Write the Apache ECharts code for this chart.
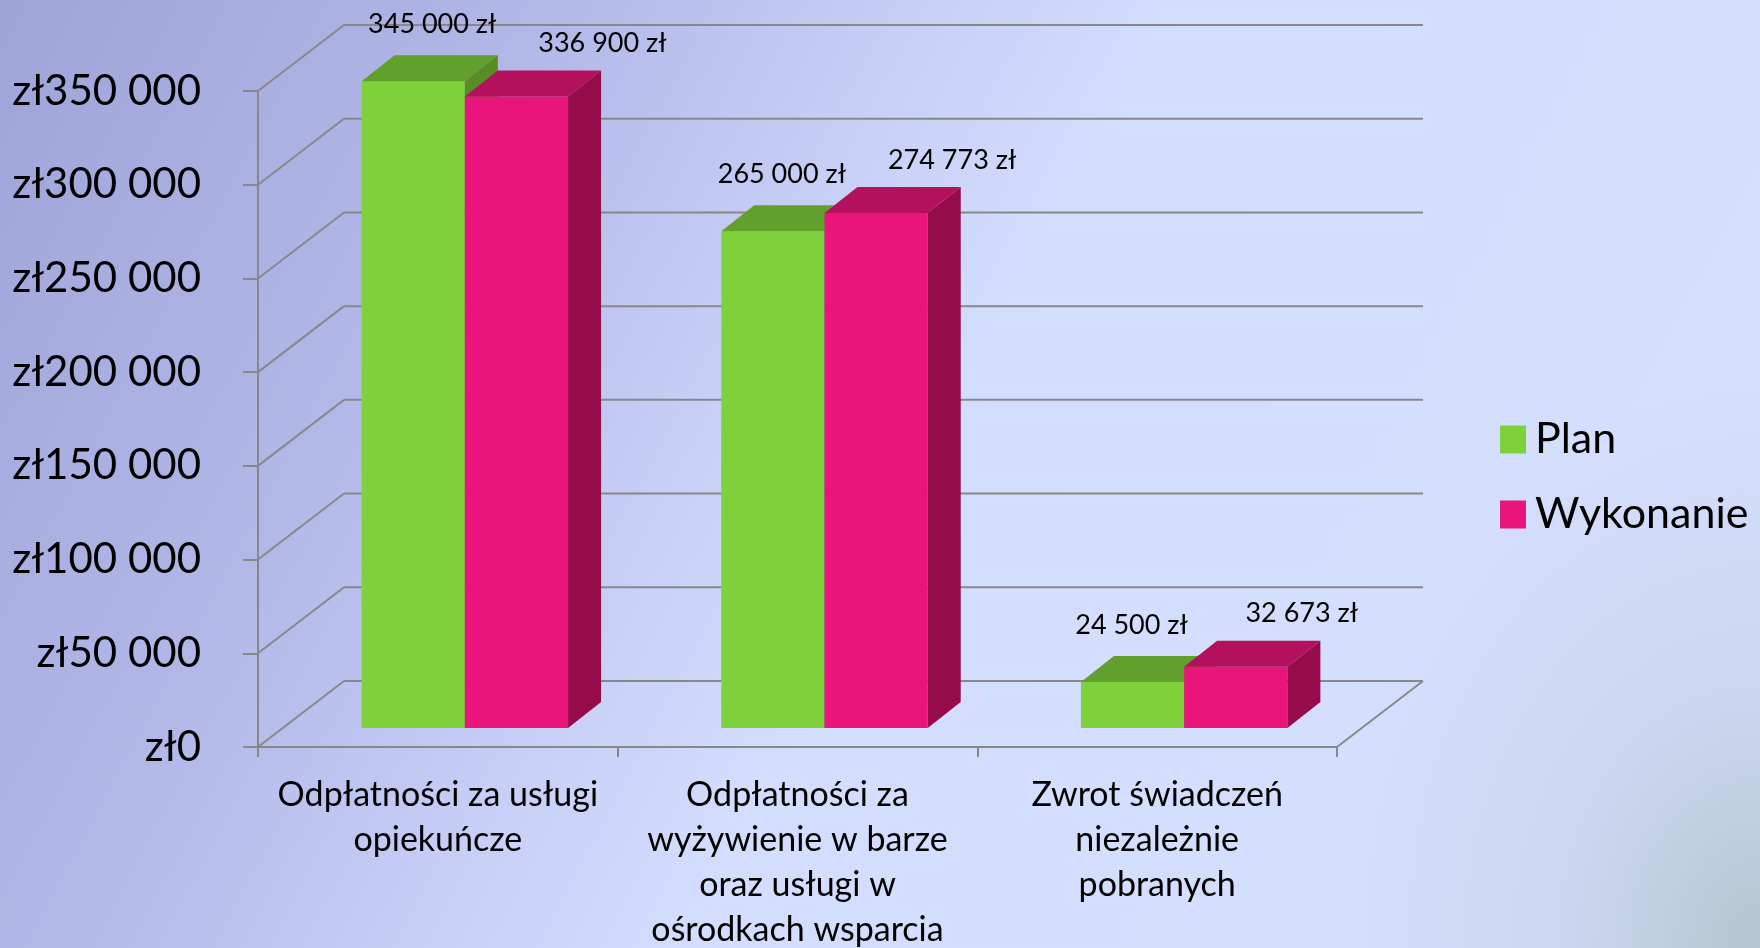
<!DOCTYPE html>
<html>
<head>
<meta charset="utf-8">
<script src="https://cdn.jsdelivr.net/npm/echarts@6/dist/echarts.min.js"></script>
<style>
    html, body {
        margin: 0;
        padding: 0;
        width: 1760px;
        height: 948px;
        overflow: hidden;
        background:
            radial-gradient(ellipse 430px 560px at 100% 100%, rgba(178, 196, 206, 0.95) 0%, rgba(195, 208, 228, 0.55) 45%, rgba(213, 223, 254, 0) 100%),
            linear-gradient(118deg, #9ea4d8 0%, #b1b7e7 24%, #c6cef6 40%, #d3ddfd 52%, #d5dffe 100%);
    }
    #main {
        width: 1760px;
        height: 948px;
    }
</style>
</head>
<body>
<div id="main"></div>
<script>
// dane wykresu
var categories = [
    'Odpłatności za usługi\nopiekuńcze',
    'Odpłatności za\nwyżywienie w barze\noraz usługi w\nośrodkach wsparcia',
    'Zwrot świadczeń\nniezależnie\npobranych'
];
var planValues = [345000, 265000, 24500];
var wykonanieValues = [336900, 274773, 32673];
var yTicks = [0, 50000, 100000, 150000, 200000, 250000, 300000, 350000];

var FONT = 'Lato, "Open Sans", sans-serif';

// przesunięcia "3D" (tylna ściana, przód słupków, głębokość słupków)
var WALL_DX = 86, WALL_DY = -66;
var BAR_DX = 27, BAR_DY = -19;
var DEPTH_X = 33, DEPTH_Y = -26;

var colors = {
    plan: { front: '#7fd13b', top: '#62a02d', side: '#578c26' },
    wyk: { front: '#ea157a', top: '#b3115d', side: '#960c4b' }
};

function fmt(v) {
    return String(v).replace(/\B(?=(\d{3})+(?!\d))/g, ' ');
}

function renderFrame(params, api) {
    var v = api.value(1);
    var p = api.coord([0, v]);
    var cs = params.coordSys;
    var x0 = cs.x, x1 = cs.x + cs.width, y = p[1];
    var st = { stroke: '#888888', lineWidth: 2 };
    var children = [
        { type: 'line', shape: { x1: x0, y1: y, x2: x0 + WALL_DX, y2: y + WALL_DY }, style: st },
        { type: 'line', shape: { x1: x0 + WALL_DX, y1: y + WALL_DY, x2: x1 + WALL_DX, y2: y + WALL_DY }, style: st }
    ];
    if (v === 0) {
        children.push({ type: 'line', shape: { x1: x1, y1: y, x2: x1 + WALL_DX, y2: y + WALL_DY }, style: st });
    }
    return { type: 'group', children: children };
}

function makeBarRenderer(slot, c, labelBase, labelDy) {
    return function (params, api) {
        var i = api.value(0);
        var v = api.value(1);
        var base = api.coord([i, 0]);
        var top = api.coord([i, v]);
        var w = api.size([1, 0])[0] * 0.287;
        var left = base[0] + BAR_DX - w + slot * w;
        var right = left + w;
        var yb = base[1] + BAR_DY;
        var yt = top[1] + BAR_DY;
        return {
            type: 'group',
            children: [
                { type: 'rect', shape: { x: left, y: yt, width: w, height: yb - yt }, style: { fill: c.front } },
                { type: 'polygon', shape: { points: [[left, yt], [right, yt], [right + DEPTH_X, yt + DEPTH_Y], [left + DEPTH_X, yt + DEPTH_Y]] }, style: { fill: c.top } },
                { type: 'polygon', shape: { points: [[right, yt], [right + DEPTH_X, yt + DEPTH_Y], [right + DEPTH_X, yb + DEPTH_Y], [right, yb]] }, style: { fill: c.side } },
                {
                    type: 'text',
                    z2: 10,
                    style: {
                        text: fmt(v) + ' zł',
                        x: left + w / 2 + labelBase - 10 * i,
                        y: yt + labelDy,
                        align: 'center',
                        verticalAlign: 'middle',
                        fontSize: 27,
                        fontFamily: FONT,
                        fill: '#000'
                    }
                }
            ]
        };
    };
}

var chart = echarts.init(document.getElementById('main'));

var option = {
    backgroundColor: 'transparent',
    animation: false,
    grid: {
        left: 258,
        right: 423,
        top: 91,
        bottom: 201,
        outerBoundsMode: 'none',
        containLabel: false
    },
    legend: {
        data: ['Plan', 'Wykonanie'],
        orient: 'vertical',
        left: 1495,
        top: 413,
        icon: 'rect',
        itemWidth: 26,
        itemHeight: 28,
        itemGap: 32,
        textStyle: {
            fontSize: 43,
            lineHeight: 41,
            fontFamily: FONT,
            color: '#000',
            padding: [0, 0, 0, 4]
        }
    },
    xAxis: {
        type: 'category',
        data: categories,
        boundaryGap: true,
        axisLine: { show: true, lineStyle: { color: '#888888', width: 2 } },
        axisTick: { show: true, length: 10, lineStyle: { color: '#888888', width: 2 } },
        axisLabel: {
            interval: 0,
            margin: 26,
            fontSize: 34,
            lineHeight: 45,
            fontFamily: FONT,
            color: '#000'
        },
        splitLine: { show: false }
    },
    yAxis: {
        type: 'value',
        min: 0,
        max: 350000,
        interval: 50000,
        axisLine: { show: true, lineStyle: { color: '#888888', width: 2 } },
        axisTick: { show: true, length: 15, lineStyle: { color: '#888888', width: 2 } },
        axisLabel: {
            margin: 57,
            fontSize: 42,
            fontFamily: FONT,
            color: '#000',
            formatter: function (v) { return 'zł' + fmt(v); }
        },
        splitLine: { show: false }
    },
    series: [
        {
            name: 'frame',
            type: 'custom',
            z: 1,
            silent: true,
            data: yTicks.map(function (v) { return [0, v]; }),
            encode: { x: 0, y: 1 },
            renderItem: renderFrame
        },
        {
            name: 'Plan',
            type: 'custom',
            z: 2,
            itemStyle: { color: colors.plan.front },
            data: planValues.map(function (v, i) { return [i, v]; }),
            encode: { x: 0, y: 1 },
            renderItem: makeBarRenderer(0, colors.plan, 19, -57)
        },
        {
            name: 'Wykonanie',
            type: 'custom',
            z: 3,
            itemStyle: { color: colors.wyk.front },
            data: wykonanieValues.map(function (v, i) { return [i, v]; }),
            encode: { x: 0, y: 1 },
            renderItem: makeBarRenderer(1, colors.wyk, 86, -53)
        }
    ]
};

chart.setOption(option);
</script>
</body>
</html>
